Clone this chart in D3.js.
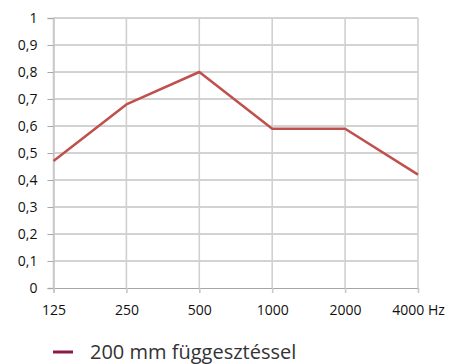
<!DOCTYPE html>
<html>
<head>
<meta charset="utf-8">
<script src="https://cdn.jsdelivr.net/npm/d3@7"></script>
<style>
  html, body { margin: 0; padding: 0; background: #fff; }
  svg { display: block; }
  text { font-family: "Open Sans", "Liberation Sans", sans-serif; }
</style>
</head>
<body>
<svg id="chart" width="449" height="364"></svg>
<script>
// Frequency bands (Hz) and sound absorption coefficients
const frequencies = ["125", "250", "500", "1000", "2000", "4000"];
const frequencyLabels = ["125", "250", "500", "1000", "2000", "4000 Hz"];
const absorption = [0.47, 0.68, 0.80, 0.59, 0.59, 0.42];
const yTicks = [0, 0.1, 0.2, 0.3, 0.4, 0.5, 0.6, 0.7, 0.8, 0.9, 1];
const seriesName = "200 mm függesztéssel";

const svg = d3.select("#chart");
const plot = { left: 53.5, right: 418, top: 18, bottom: 288 };

const x = d3.scalePoint().domain(frequencies).range([plot.left, plot.right]);
const y = d3.scaleLinear().domain([0, 1]).range([plot.bottom, plot.top]);
const fmt = v => (v === 0 || v === 1) ? String(v) : d3.format(".1f")(v).replace(".", ",");

// Horizontal grid lines
svg.append("g")
  .selectAll("line")
  .data(yTicks.filter(t => t > 0))
  .join("line")
  .attr("x1", plot.left).attr("x2", plot.right)
  .attr("y1", d => y(d)).attr("y2", d => y(d))
  .attr("stroke", "#a6a6a6").attr("stroke-width", 1);

// Vertical grid lines
svg.append("g")
  .selectAll("line")
  .data(frequencies)
  .join("line")
  .attr("x1", d => x(d)).attr("x2", d => x(d))
  .attr("y1", plot.top).attr("y2", plot.bottom)
  .attr("stroke", "#d0d0d0").attr("stroke-width", 1.6);

// Y axis
const yAxis = svg.append("g")
  .attr("transform", `translate(${plot.left},0)`)
  .call(d3.axisLeft(y).tickValues(yTicks).tickFormat(fmt).tickSize(6).tickPadding(10));
yAxis.select(".domain").attr("stroke", "#c8c8c8").attr("stroke-width", 1.6);
yAxis.selectAll(".tick line").attr("stroke", "#a6a6a6");
yAxis.selectAll(".tick text")
  .attr("font-size", 14).attr("fill", "#111")
  .style("font-family", "'Open Sans', sans-serif");

// X axis
const xAxis = svg.append("g")
  .attr("transform", `translate(0,${plot.bottom})`)
  .call(d3.axisBottom(x).tickFormat((d, i) => frequencyLabels[i]).tickSize(5).tickPadding(12));
xAxis.select(".domain").attr("stroke", "#a6a6a6").attr("stroke-width", 1);
xAxis.selectAll(".tick line").attr("stroke", "#c8c8c8").attr("stroke-width", 1.6);
xAxis.selectAll(".tick text")
  .attr("font-size", 14).attr("fill", "#111")
  .style("font-family", "'Open Sans', sans-serif");

// Absorption curve
const line = d3.line()
  .x((d, i) => x(frequencies[i]))
  .y(d => y(d));
svg.append("path")
  .datum(absorption)
  .attr("d", line)
  .attr("fill", "none")
  .attr("stroke", "#c0504d")
  .attr("stroke-width", 2.5)
  .attr("stroke-linejoin", "round");

// Legend
const legend = svg.append("g").attr("transform", "translate(53,352)");
legend.append("line")
  .attr("x1", 0).attr("x2", 20).attr("y1", 0).attr("y2", 0)
  .attr("stroke", "#8b1a4b").attr("stroke-width", 3);
legend.append("text")
  .attr("x", 37).attr("y", 6.5)
  .attr("font-size", 20).attr("fill", "#333")
  .text(seriesName);
</script>
</body>
</html>
